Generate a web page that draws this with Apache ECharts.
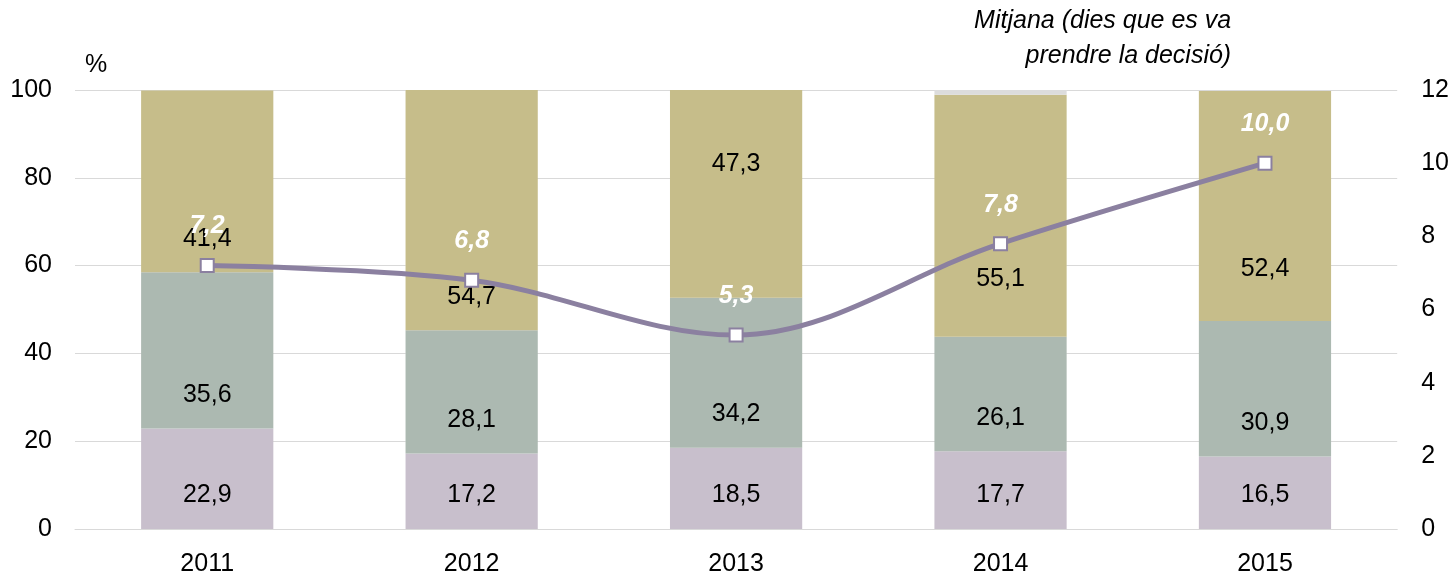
<!DOCTYPE html>
<html>
<head>
<meta charset="utf-8">
<script src="https://cdn.jsdelivr.net/npm/echarts@6/dist/echarts.min.js"></script>
<style>
html,body{margin:0;padding:0;background:#fff;}
#chart{width:1452px;height:577px;}
</style>
</head>
<body>
<div id="chart"></div>
<script>
const categories = ['2011', '2012', '2013', '2014', '2015'];
const seriesLow = [22.9, 17.2, 18.5, 17.7, 16.5];
const seriesMid = [35.6, 28.1, 34.2, 26.1, 30.9];
const seriesHigh = [41.4, 54.7, 47.3, 55.1, 52.4];
const seriesNsnc = [0, 0, 0, 1.1, 0];
const meanDays = [7.2, 6.8, 5.3, 7.8, 10.0];
const leftAxisName = '%';
const rightAxisName = 'Mitjana (dies que es va\nprendre la decisió)';

// label layout shifts (px) for the top segment, manually placed in the original
const highLabelShift = [0, 0, -100, -24, -18];

const FONT = "'Liberation Sans', Arial, sans-serif";
const FS = 25;
const fmt = v => Number(v).toFixed(1).replace('.', ',');

const barLabel = {
  show: true, position: 'insideBottom', distance: 21,
  color: '#000', fontSize: FS, fontFamily: FONT,
  formatter: p => fmt(p.value)
};

const chart = echarts.init(document.getElementById('chart'), null, {renderer: 'canvas'});
chart.setOption({
  animation: false,
  textStyle: {fontFamily: FONT},
  grid: {left: 75, right: 54, top: 90, bottom: 47, containLabel: false},
  xAxis: {
    type: 'category', data: categories,
    axisLine: {show: true, lineStyle: {color: '#d9d9d9', width: 1}},
    axisTick: {show: false},
    axisLabel: {color: '#000', fontSize: FS, fontFamily: FONT, margin: 23}
  },
  yAxis: [
    {
      type: 'value', min: 0, max: 100, interval: 20,
      name: leftAxisName, nameLocation: 'end', nameGap: 12,
      nameTextStyle: {color: '#000', fontSize: FS, fontFamily: FONT, align: 'left', verticalAlign: 'bottom', padding: [0, 0, 0, 10]},
      axisLine: {show: false}, axisTick: {show: false},
      axisLabel: {color: '#000', fontSize: FS, fontFamily: FONT, margin: 23},
      splitLine: {lineStyle: {color: '#d9d9d9', width: 1}}
    },
    {
      type: 'value', min: 0, max: 12, interval: 2, position: 'right',
      name: rightAxisName, nameLocation: 'end', nameGap: 16,
      nameTextStyle: {color: '#000', fontSize: FS, fontStyle: 'italic', fontFamily: FONT, align: 'right', verticalAlign: 'bottom', lineHeight: 35, padding: [0, 166, 0, 0]},
      axisLine: {show: false}, axisTick: {show: false},
      axisLabel: {color: '#000', fontSize: FS, fontFamily: FONT, margin: 24},
      splitLine: {show: false}
    }
  ],
  series: [
    {
      name: 'Sèrie 1', type: 'bar', stack: 'total', barWidth: '50%',
      data: seriesLow, itemStyle: {color: '#c8bfcc'}, label: barLabel
    },
    {
      name: 'Sèrie 2', type: 'bar', stack: 'total',
      data: seriesMid, itemStyle: {color: '#acb9b1'}, label: barLabel
    },
    {
      name: 'Sèrie 3', type: 'bar', stack: 'total',
      data: seriesHigh.map((v, i) => ({value: v, label: {offset: [0, highLabelShift[i]]}})),
      itemStyle: {color: '#c6bd8a'}, label: barLabel
    },
    {
      name: 'NS/NC', type: 'bar', stack: 'total',
      data: seriesNsnc, itemStyle: {color: '#dcdcdc'}, label: {show: false}
    },
    {
      name: 'Mitjana', type: 'line', yAxisIndex: 1, smooth: 0.35,
      data: meanDays, z: 5,
      lineStyle: {color: '#8b80a0', width: 5},
      symbol: 'rect', symbolSize: 13,
      itemStyle: {color: '#ffffff', borderColor: '#8b80a0', borderWidth: 2},
      label: {
        show: true, position: 'top', distance: 19,
        color: '#ffffff', fontSize: FS, fontWeight: 'bold', fontStyle: 'italic', fontFamily: FONT,
        formatter: p => fmt(p.value)
      }
    }
  ]
});
</script>
</body>
</html>
